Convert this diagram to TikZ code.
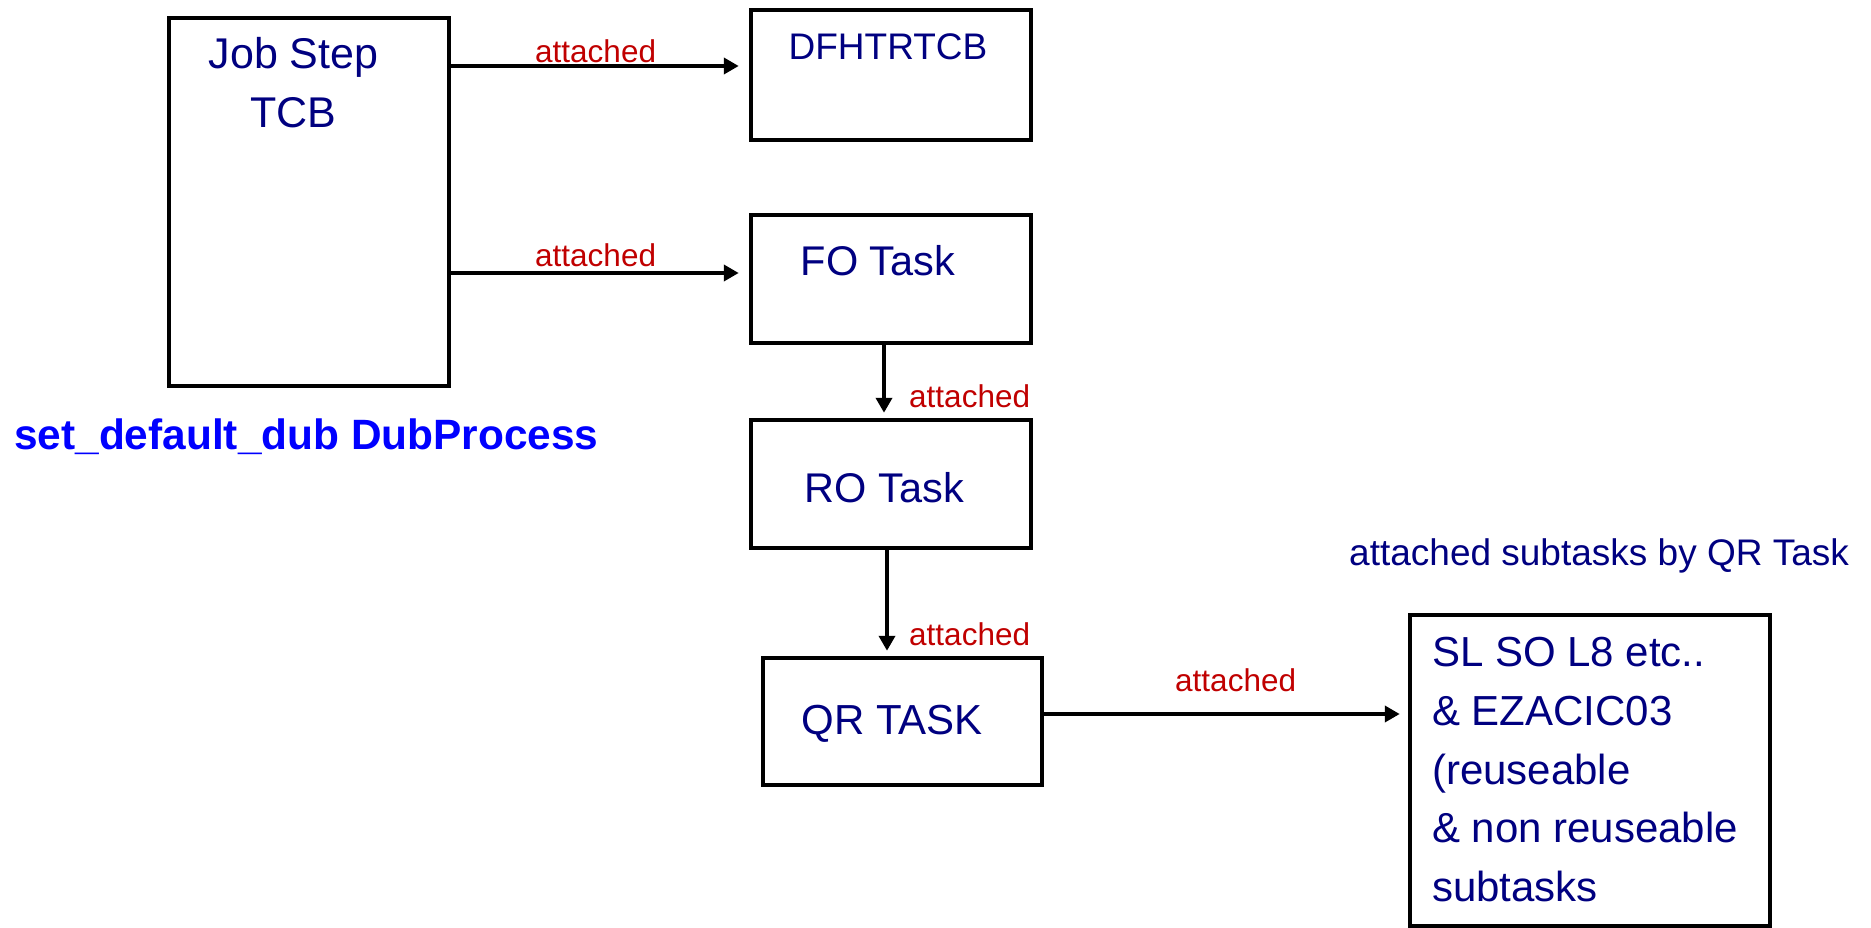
\documentclass[tikz,border=0pt]{standalone}
\usepackage{fontspec}
\setmainfont{Liberation Sans}
\usetikzlibrary{arrows.meta}

\definecolor{tasknavy}{RGB}{0,0,128}
\definecolor{attred}{RGB}{192,0,0}
\definecolor{dubblue}{RGB}{0,0,255}

\begin{document}
\begin{tikzpicture}[x=1pt,y=-1pt]
  \tikzstyle{taskbox}=[draw,line width=4.5pt,inner sep=0pt]
  \tikzstyle{tasktext}=[text=tasknavy,inner sep=0pt,anchor=base]
  \tikzstyle{attlabel}=[text=attred,inner sep=0pt,anchor=base west,font=\fontsize{31.5}{36}\selectfont]
  \tikzstyle{attach}=[line width=4pt,-{Triangle[length=15pt,width=16pt]}]

  \useasboundingbox (0,0) rectangle (1871,928);

  % boxes
  \draw (309,202) node[taskbox,minimum width=280pt,minimum height=368pt] (jobtcb) {};
  \draw (891,75) node[taskbox,minimum width=280pt,minimum height=130pt] (dfh) {};
  \draw (891,279) node[taskbox,minimum width=280pt,minimum height=128pt] (fo) {};
  \draw (891,484) node[taskbox,minimum width=280pt,minimum height=128pt] (ro) {};
  \draw (902.5,721.5) node[taskbox,minimum width=279pt,minimum height=127pt] (qr) {};
  \draw (1590,770.5) node[taskbox,minimum width=360pt,minimum height=311pt] (sub) {};

  % box texts
  \draw (293.5,37) node[text=tasknavy,inner sep=0pt,anchor=north,align=center,font=\fontsize{43}{59}\selectfont] (jobtcbtext) {Job Step\\TCB};
  \draw (888,60) node[tasktext,font=\fontsize{37}{44}\selectfont] (dfhtext) {DFHTRTCB};
  \draw (878,275) node[tasktext,font=\fontsize{41.5}{50}\selectfont] (fotext) {FO Task};
  \draw (884.5,502) node[tasktext,font=\fontsize{41.5}{50}\selectfont] (rotext) {RO Task};
  \draw (892,734) node[tasktext,font=\fontsize{42}{50}\selectfont] (qrtext) {QR TASK};
  \draw (1432,637) node[text=tasknavy,inner sep=0pt,anchor=north west,align=left,font=\fontsize{42}{58.75}\selectfont] (subtext) {SL SO L8 etc..\\\& EZACIC03\\(reuseable\\\& non reuseable\\subtasks};

  % free texts
  \draw (14,449) node[text=dubblue,inner sep=0pt,anchor=base west,font=\bfseries\fontsize{42.4}{50}\selectfont] (dub) {set\_default\_dub DubProcess};
  \draw (1349,565) node[text=tasknavy,inner sep=0pt,anchor=base west,font=\fontsize{37}{44}\selectfont] (subhead) {attached subtasks by QR Task};

  % arrows
  \coordinate (a1) at ([yshift=9pt]dfh.west);
  \coordinate (a2) at ([yshift=6pt]fo.west);
  \coordinate (a3) at ([xshift=-7pt]fo.south);
  \coordinate (a4) at ([xshift=-4pt]ro.south);
  \coordinate (a5) at ([yshift=7.5pt]qr.east);

  \path (a1 -| jobtcb.east) edge[attach,shorten >=10pt] (a1);
  \path (a2 -| jobtcb.east) edge[attach,shorten >=10pt] (a2);
  \path (a3) edge[attach,shorten >=5pt] (a3 |- ro.north);
  \path (a4) edge[attach,shorten >=5pt] (a4 |- qr.north);
  \path (a5) edge[attach,shorten >=8pt] (a5 -| sub.west);

  \draw (535,63) node[attlabel] (att1) {attached};
  \draw (535,266) node[attlabel] (att2) {attached};
  \draw (909,407) node[attlabel] (att3) {attached};
  \draw (909,645) node[attlabel] (att4) {attached};
  \draw (1175,691) node[attlabel] (att5) {attached};

\end{tikzpicture}
\end{document}
